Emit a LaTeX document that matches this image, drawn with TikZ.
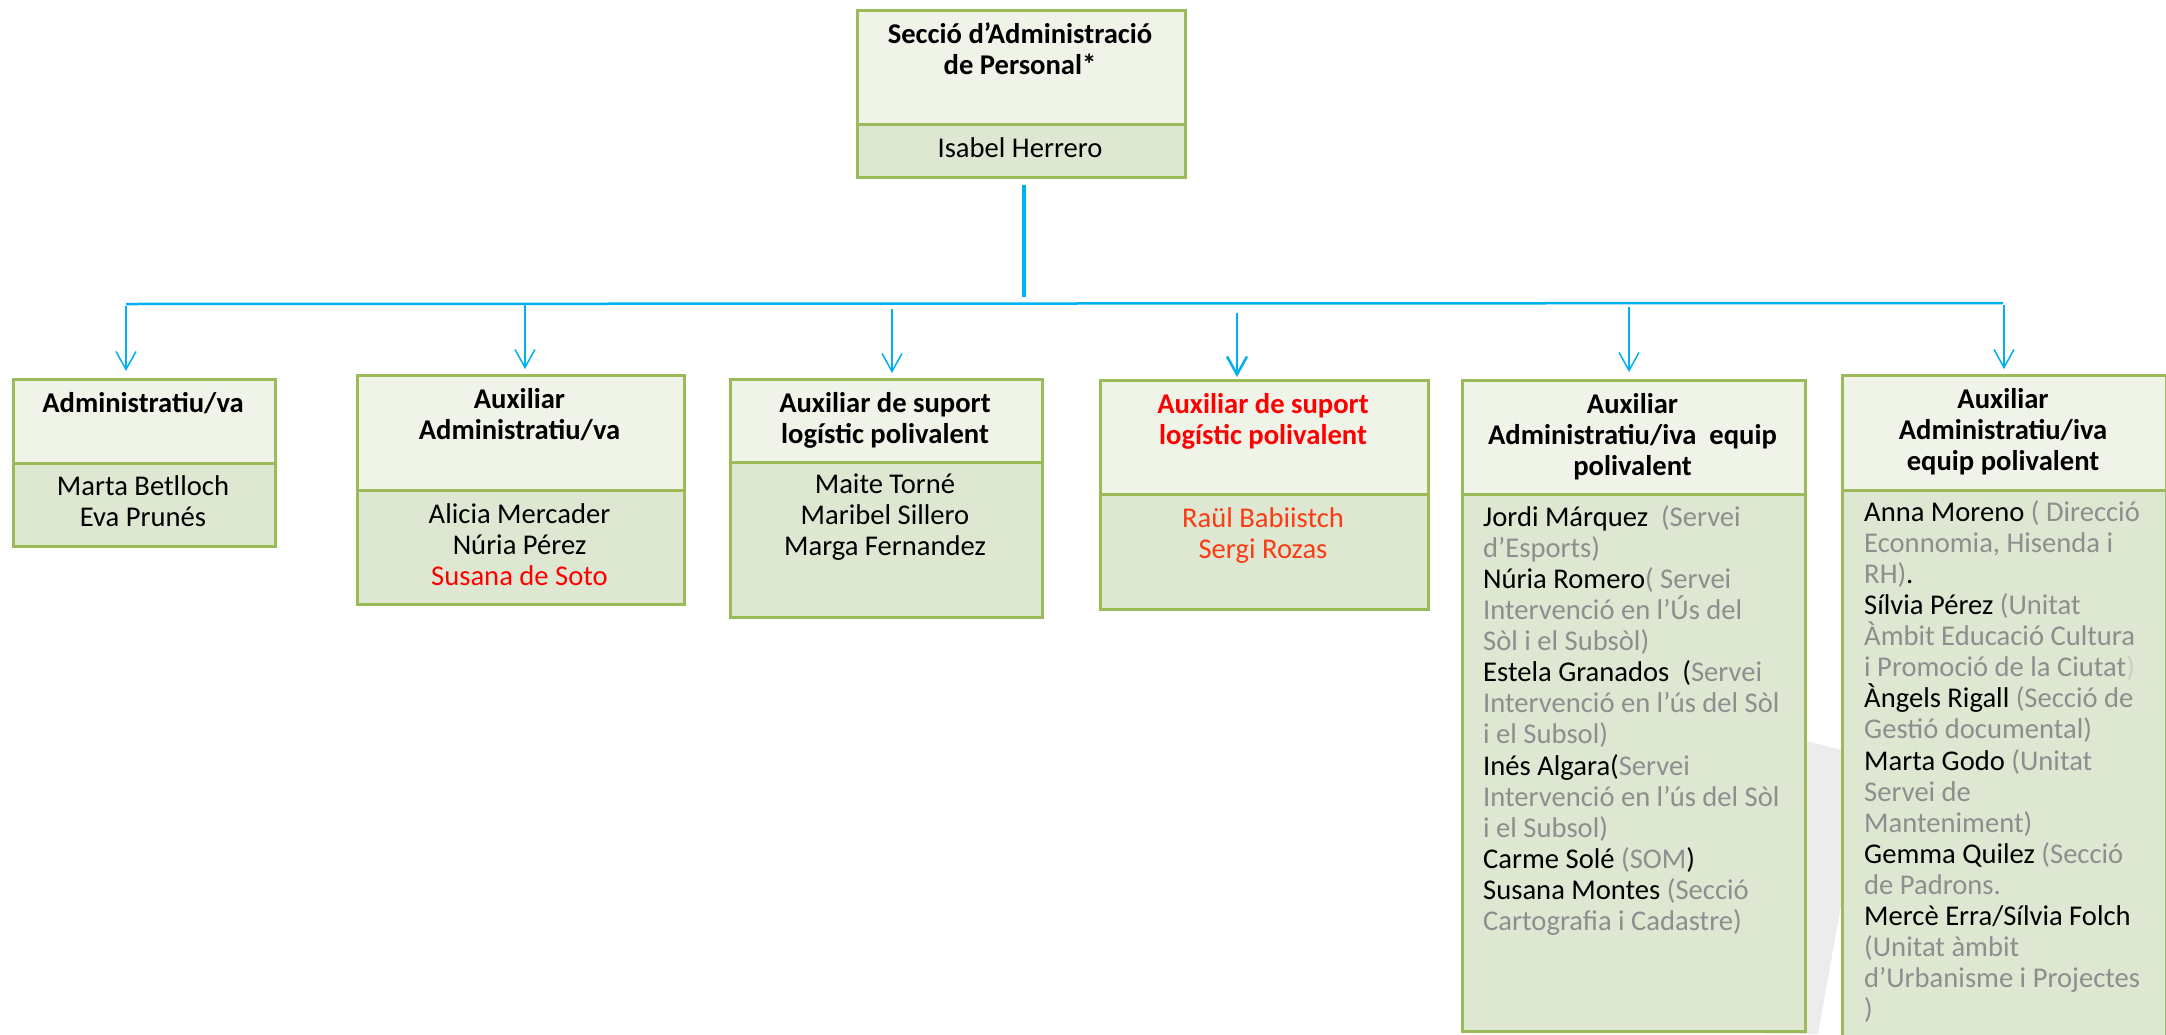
\documentclass[tikz,border=0pt]{standalone}
\usepackage{fontspec}
\setmainfont{Carlito}
\usetikzlibrary{arrows.meta}
\definecolor{bgreen}{HTML}{9BBB59}
\definecolor{ftop}{HTML}{F0F3E8}
\definecolor{fbot}{HTML}{DEE7D1}
\definecolor{cblue}{HTML}{00B0F0}
\definecolor{gtext}{HTML}{8E8E8E}
\definecolor{gfaint}{HTML}{C8CEC0}
\definecolor{nred}{HTML}{FA3C14}
\definecolor{wmark}{HTML}{ECECEC}
\newcommand\gr[1]{\textcolor{gtext}{#1}}
\newcommand\fl{\rule{0pt}{28pt}}
\lineskiplimit=-30pt
\begin{document}
\begin{tikzpicture}[x=1pt,y=-1pt,
 boxtop/.style={draw=bgreen, fill=ftop, line width=3pt, inner sep=0pt, anchor=north west},
 boxbot/.style={draw=bgreen, fill=fbot, line width=3pt, inner sep=0pt, anchor=north west},
 ttl/.style={font=\fontsize{28.6}{31.1}\selectfont\bfseries, align=center, inner sep=0pt, anchor=north},
 ppl/.style={font=\fontsize{28.6}{31.1}\selectfont, align=center, inner sep=0pt, anchor=north},
 pplleft/.style={font=\fontsize{28.6}{31.1}\selectfont, align=left, inner sep=0pt, anchor=north west},
 trunk/.style={draw=cblue, line width=3.5pt},
 hbar/.style={draw=cblue, line width=2.5pt},
 arr/.style={draw=cblue, line width=1.5pt, -{Straight Barb[length=18pt,width=20pt]}},
]
\path[use as bounding box] (0,0) rectangle (2166,1034);
\clip (0,0) rectangle (2166,1034);
\fill[white] (0,0) rectangle (2166,1034);

% watermark
\fill[wmark] (1745,725) -- (1841,750) -- (1841,905) -- (1818,1034) -- (1765,1034) -- cycle;

% top box
\node[boxtop, minimum width=328pt, minimum height=114pt] (t0) at (856,9) {};
\node[boxbot, minimum width=328pt, minimum height=53pt] (b0) at (856,123) {};
\node[ttl] (t0x) at (1020,15) {\fl Secció d’Administració\\de Personal*};
\node[ppl] (b0x) at (1020,129) {\fl Isabel Herrero};

% box 1
\node[boxtop, minimum width=262pt, minimum height=84pt] (t1) at (12,378) {};
\node[boxbot, minimum width=262pt, minimum height=83pt] (b1) at (12,462) {};
\node[ttl] (t1x) at (143,384) {\fl Administratiu/va};
\node[ppl] (b1x) at (143,467) {\fl Marta Betlloch\\Eva Prunés};

% box 2
\node[boxtop, minimum width=327pt, minimum height=115pt] (t2) at (356,374) {};
\node[boxbot, minimum width=327pt, minimum height=114pt] (b2) at (356,489) {};
\node[ttl] (t2x) at (519.5,380) {\fl Auxiliar\\Administratiu/va};
\node[ppl] (b2x) at (519.5,495) {\fl Alicia Mercader\\Núria Pérez\\\textcolor{red}{Susana de Soto}};

% box 3
\node[boxtop, minimum width=312pt, minimum height=83pt] (t3) at (729,378) {};
\node[boxbot, minimum width=312pt, minimum height=155pt] (b3) at (729,461) {};
\node[ttl] (t3x) at (885,384) {\fl Auxiliar de suport\\logístic polivalent};
\node[ppl] (b3x) at (885,465) {\fl Maite Torné\\Maribel Sillero\\Marga Fernandez};

% box 4
\node[boxtop, minimum width=328pt, minimum height=114pt] (t4) at (1099,379) {};
\node[boxbot, minimum width=328pt, minimum height=115pt] (b4) at (1099,493) {};
\node[ttl, text=red] (t4x) at (1263,385) {\fl Auxiliar de suport\\logístic polivalent};
\node[ppl, text=nred] (b4x) at (1263,499) {\fl Raül Babiistch\\Sergi Rozas};

% box 5
\node[boxtop, minimum width=343pt, minimum height=114pt] (t5) at (1461,379) {};
\node[boxbot, minimum width=343pt, minimum height=537pt] (b5) at (1461,493) {};
\node[ttl] (t5x) at (1632.5,385) {\fl Auxiliar\\Administratiu/iva\ \ equip\\polivalent};
\node[pplleft] (b5x) at (1483,498) {\fl Jordi Márquez\ \ \gr{(Servei}\\
\gr{d’Esports)}\\
Núria Romero\gr{( Servei}\\
\gr{Intervenció en l’Ús del}\\
\gr{Sòl i el Subsòl)}\\
Estela Granados\ \ (\gr{Servei}\\
\gr{Intervenció en l’ús del Sòl}\\
\gr{i el Subsol)}\\
Inés Algara(\gr{Servei}\\
\gr{Intervenció en l’ús del Sòl}\\
\gr{i el Subsol)}\\
Carme Solé \gr{(SOM})\\
Susana Montes \gr{(Secció}\\
\gr{Cartografia i Cadastre)}};

% box 6
\node[boxtop, minimum width=324pt, minimum height=115pt] (t6) at (1841,374) {};
\node[boxbot, minimum width=324pt, minimum height=560pt] (b6) at (1841,489) {};
\node[ttl] (t6x) at (2003,380) {\fl Auxiliar\\Administratiu/iva\\equip polivalent};
\node[pplleft] (b6x) at (1864,493) {\fl Anna Moreno \gr{( Direcció}\\
\gr{Econnomia, Hisenda i}\\
\gr{RH)}.\\
Sílvia Pérez \gr{(Unitat}\\
\gr{Àmbit Educació Cultura}\\
\gr{i Promoció de la Ciutat}\textcolor{gfaint}{)}\\
Àngels Rigall \gr{(Secció de}\\
\gr{Gestió documental)}\\
Marta Godo \gr{(Unitat}\\
\gr{Servei de}\\
\gr{Manteniment)}\\
Gemma Quilez \gr{(Secció}\\
\gr{de Padrons.}\\
Mercè Erra/Sílvia Folch\\
\gr{(Unitat àmbit}\\
\gr{d’Urbanisme i Projectes}\\
\gr{)}};

% connectors
\coordinate (tr1) at (1024,297);
\draw[trunk] ([yshift=-6pt]b0.south -| tr1) -- (tr1);
\coordinate (hl) at (126,304);
\coordinate (hr) at (2003,303);
\draw[hbar] (hl) -- (hr);
\coordinate (a1) at (126,306);
\coordinate (a2) at (525,304);
\coordinate (a3) at (892,309);
\coordinate (a4) at (1237,313);
\coordinate (a5) at (1629,307);
\coordinate (a6) at (2004,305);
\draw[arr, shorten >=7pt] (a1) -- (a1 |- t1.north);
\draw[arr, shorten >=5pt] (a2) -- (a2 |- t2.north);
\draw[arr, shorten >=5pt] (a3) -- (a3 |- t3.north);
\draw[arr, line width=2.5pt, shorten >=2pt] (a4) -- (a4 |- t4.north);
\draw[arr, shorten >=7pt] (a5) -- (a5 |- t5.north);
\draw[arr, shorten >=5pt] (a6) -- (a6 |- t6.north);
\end{tikzpicture}
\end{document}
